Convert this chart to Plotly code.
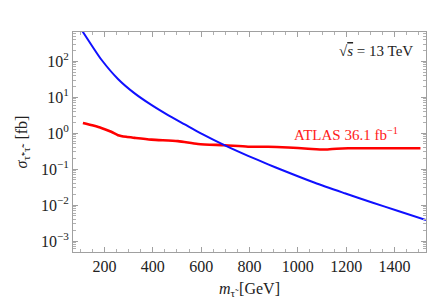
import plotly.graph_objects as go

# Theory cross section (blue)
mass_theory = [100, 111, 153, 187, 256, 325, 394, 463, 532, 601, 698, 794, 877, 932, 1070, 1194, 1304, 1415, 1530]
sigma_theory = [857, 652, 242, 112, 32.2, 12.8, 6.11, 3.18, 1.75, 0.968, 0.458, 0.234, 0.136, 0.0957,
                0.0416, 0.0213, 0.0120, 0.00686, 0.00385]

# ATLAS 36.1 fb^-1 limit (red)
mass_atlas = [111, 150, 187, 228, 256, 290, 325, 394, 504, 587, 698, 794, 877, 960, 1042, 1111, 1160, 1208, 1300, 1400, 1507]
sigma_atlas = [1.93, 1.65, 1.40, 1.09, 0.88, 0.79, 0.74, 0.66, 0.60, 0.50, 0.46, 0.42, 0.42, 0.40, 0.37, 0.35,
               0.37, 0.38, 0.38, 0.38, 0.38]

x_ticks = [200, 400, 600, 800, 1000, 1200, 1400]
y_tickvals = [1e-3, 1e-2, 1e-1, 1e0, 1e1, 1e2]
y_ticktext = ["10<sup>−3</sup>", "10<sup>−2</sup>", "10<sup>−1</sup>", "10<sup>0</sup>", "10<sup>1</sup>", "10<sup>2</sup>"]

FONT = "Liberation Serif"

fig = go.Figure()
fig.add_trace(go.Scatter(x=mass_atlas, y=sigma_atlas, mode="lines",
                         line=dict(color="#ff0000", width=2.6, shape="spline", smoothing=0.7), showlegend=False))
fig.add_trace(go.Scatter(x=mass_theory, y=sigma_theory, mode="lines",
                         line=dict(color="#1010ff", width=2, shape="spline", smoothing=0.7), showlegend=False))

axis_common = dict(showgrid=False, zeroline=False, showline=True, linecolor="#a0a0a0",
                   linewidth=1, mirror="allticks", ticks="inside", tickcolor="#a0a0a0",
                   ticklen=5, tickfont=dict(family=FONT, size=16, color="#222"))

fig.update_xaxes(range=[70, 1530], tickvals=x_ticks,
                 minor=dict(ticks="inside", dtick=50, ticklen=3, tickcolor="#b0b0b0", showgrid=False),
                 title=dict(text="<i>m</i><sub>τ̃</sub> [GeV]", font=dict(family=FONT, size=16, color="#222"),
                            standoff=8),
                 **axis_common)
fig.update_yaxes(type="log", range=[-3.306, 2.814], tickvals=y_tickvals, ticktext=y_ticktext,
                 minor=dict(ticks="inside", dtick="D1", ticklen=3, tickcolor="#b0b0b0", showgrid=False),
                 title=dict(text="<i>σ</i><sub>τ̃⁺τ̃⁻</sub> [fb]", font=dict(family=FONT, size=16, color="#222"),
                            standoff=9),
                 **axis_common)

fig.add_annotation(x=1485, y=2.29, xref="x", yref="y",
                   text="√<span style='text-decoration:overline'><i>s</i></span> = 13 TeV", showarrow=False,
                   xanchor="right", yanchor="middle", font=dict(family=FONT, size=15, color="#222"))
fig.add_annotation(x=1199, y=-0.02, xref="x", yref="y", text="ATLAS 36.1 fb<sup>−1</sup>", showarrow=False,
                   xanchor="center", yanchor="middle", font=dict(family=FONT, size=15, color="#ff2020"))

fig.update_layout(width=443, height=300, margin=dict(l=65, r=25, t=24, b=56),
                  plot_bgcolor="white", paper_bgcolor="white", showlegend=False)

fig.write_html("out.html")
